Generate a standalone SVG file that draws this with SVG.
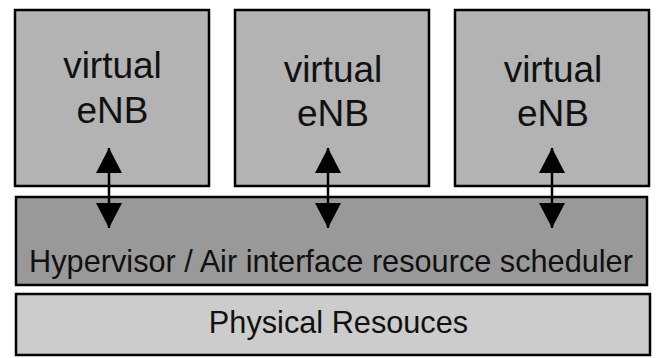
<svg xmlns="http://www.w3.org/2000/svg" width="659" height="358" viewBox="0 0 659 358">
  <style>
    .box { stroke: #000; stroke-width: 2.5; }
    .enb { fill: #b3b3b3; }
    .hyp { fill: #999999; }
    .phy { fill: #cccccc; }
    .big { font-family: "Liberation Sans", Arial, sans-serif; font-size: 37px; fill: #111; text-anchor: middle; }
    .mid { font-family: "Liberation Sans", Arial, sans-serif; font-size: 30.7px; fill: #111; text-anchor: middle; }
    .conn { stroke: #000; stroke-width: 2.5; fill: none; marker-start: url(#head); marker-end: url(#head); }
  </style>
  <defs>
    <marker id="head" viewBox="0 0 25 26" refX="25" refY="13" markerWidth="25" markerHeight="26" markerUnits="userSpaceOnUse" orient="auto-start-reverse">
      <path d="M0,0 L25,13 L0,26 z" fill="#000"/>
    </marker>
  </defs>
  <g id="enb1">
    <rect class="box enb" x="15" y="10" width="194" height="176"/>
    <text class="big" x="112.5" y="78">virtual</text>
    <text class="big" x="112.5" y="123">eNB</text>
  </g>
  <g id="enb2">
    <rect class="box enb" x="235" y="10" width="194" height="176"/>
    <text class="big" x="333" y="82">virtual</text>
    <text class="big" x="333" y="126">eNB</text>
  </g>
  <g id="enb3">
    <rect class="box enb" x="455" y="10" width="194" height="176"/>
    <text class="big" x="553" y="82">virtual</text>
    <text class="big" x="553" y="126">eNB</text>
  </g>
  <g id="hypervisor">
    <rect class="box hyp" x="16" y="197" width="631" height="88"/>
    <text class="mid" x="331" y="272">Hypervisor / Air interface resource scheduler</text>
  </g>
  <g id="physical">
    <rect class="box phy" x="16" y="294" width="634" height="61"/>
    <text class="mid" x="338.5" y="333">Physical Resouces</text>
  </g>
  <g id="connectors">
    <line class="conn" x1="109" y1="148" x2="109" y2="228"/>
    <line class="conn" x1="328" y1="148" x2="328" y2="228"/>
    <line class="conn" x1="552" y1="148" x2="552" y2="228"/>
  </g>
</svg>
